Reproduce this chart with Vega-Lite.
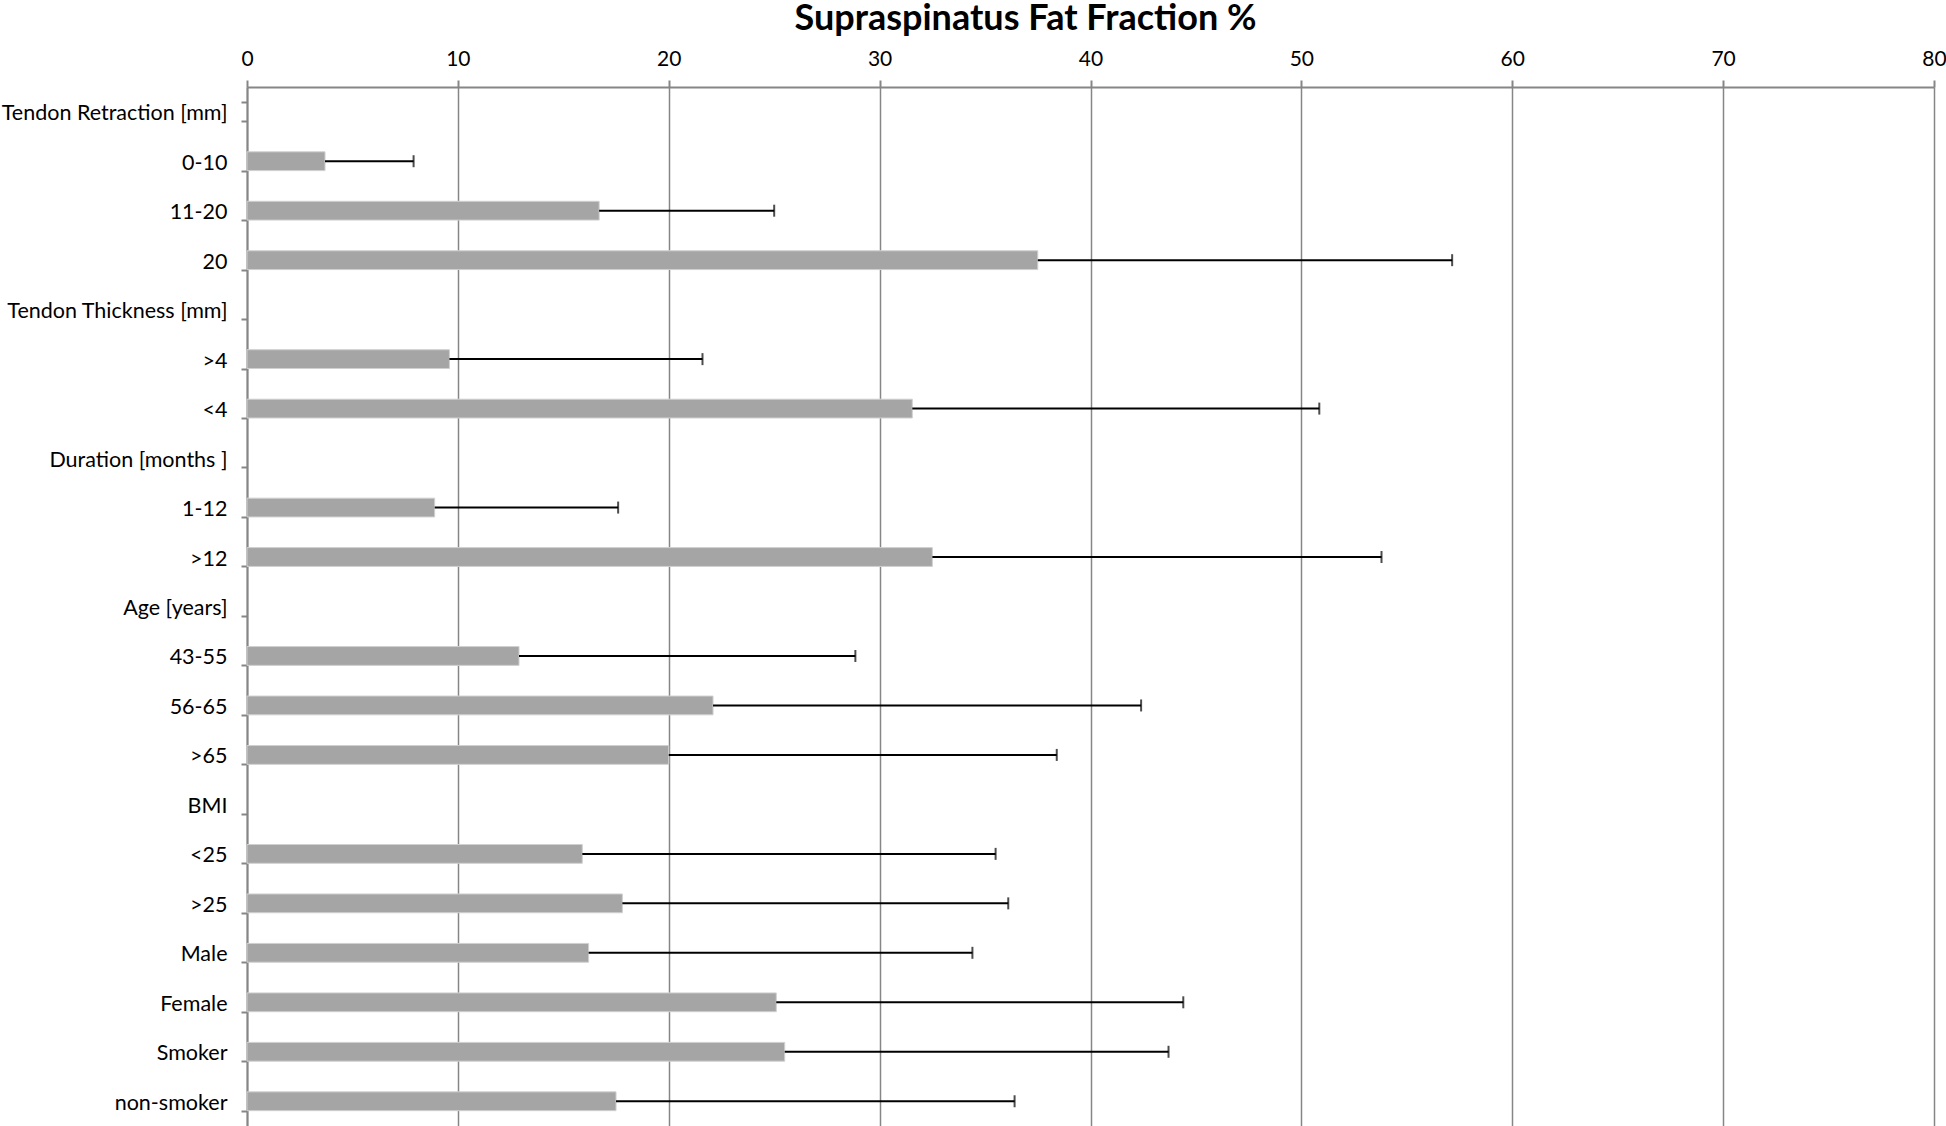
{
  "$schema": "https://vega.github.io/schema/vega-lite/v6.json",
  "autosize": {"type": "none"},
  "padding": {"left": 247, "top": 87, "right": 12, "bottom": 0},
  "width": 1687,
  "height": 1039,
  "background": "white",
  "config": {"view": {"stroke": null}, "font": "Lato"},
  "data": {
    "values": [
      {"group": "0-10", "mean": 3.7, "upper": 7.9},
      {"group": "11-20", "mean": 16.7, "upper": 25.0},
      {"group": "20", "mean": 37.5, "upper": 57.15},
      {"group": ">4", "mean": 9.6, "upper": 21.6},
      {"group": "<4", "mean": 31.55, "upper": 50.85},
      {"group": "1-12", "mean": 8.9, "upper": 17.6},
      {"group": ">12", "mean": 32.5, "upper": 53.8},
      {"group": "43-55", "mean": 12.9, "upper": 28.85},
      {"group": "56-65", "mean": 22.1, "upper": 42.4},
      {"group": ">65", "mean": 20.0, "upper": 38.4},
      {"group": "<25", "mean": 15.9, "upper": 35.5},
      {"group": ">25", "mean": 17.8, "upper": 36.1},
      {"group": "Male", "mean": 16.2, "upper": 34.4},
      {"group": "Female", "mean": 25.1, "upper": 44.4},
      {"group": "Smoker", "mean": 25.5, "upper": 43.7},
      {"group": "non-smoker", "mean": 17.5, "upper": 36.4}
    ]
  },
  "encoding": {
    "y": {
      "field": "group",
      "type": "nominal",
      "scale": {
        "domain": ["Tendon Retraction [mm]", "0-10", "11-20", "20", "Tendon Thickness [mm]", ">4", "<4", "Duration [months ]", "1-12", ">12", "Age [years]", "43-55", "56-65", ">65", "BMI", "<25", ">25", "Male", "Female", "Smoker", "non-smoker"],
        "paddingInner": 0.62,
        "paddingOuter": 0.31
      },
      "axis": {
        "title": null,
        "orient": "left",
        "domainColor": "#868686",
        "domainWidth": 2,
        "tickColor": "#868686",
        "tickWidth": 2,
        "tickSize": 6,
        "tickBand": "extent",
        "labelFontSize": 21.5,
        "labelColor": "black",
        "labelPadding": 14,
        "labelOffset": 2,
        "labelLimit": 400,
        "grid": false
      }
    }
  },
  "layer": [
    {
      "mark": {"type": "bar", "color": "#a5a5a5", "stroke": "#d0d0d0", "strokeWidth": 1},
      "encoding": {
        "x": {
          "field": "mean",
          "type": "quantitative",
          "scale": {"domain": [0, 80], "nice": false},
          "axis": {
            "orient": "top",
            "values": [0, 10, 20, 30, 40, 50, 60, 70, 80],
            "title": "Supraspinatus Fat Fraction %",
            "titleFontSize": 36,
            "titleFontWeight": "bold",
            "titleColor": "black",
            "titleAnchor": "start",
            "titleAlign": "center",
            "titleX": 778,
            "titleY": -58,
            "titleBaseline": "alphabetic",
            "domainColor": "#868686",
            "domainWidth": 2,
            "tickColor": "#868686",
            "tickWidth": 2,
            "tickSize": 7,
            "labelFontSize": 21,
            "labelColor": "black",
            "labelPadding": 11,
            "labelFlush": false,
            "grid": true,
            "gridColor": "#868686",
            "gridWidth": 1.5
          }
        }
      }
    },
    {
      "mark": {"type": "rule", "color": "black", "strokeWidth": 2},
      "encoding": {
        "x": {"field": "mean", "type": "quantitative"},
        "x2": {"field": "upper"}
      }
    },
    {
      "mark": {"type": "tick", "orient": "vertical", "color": "black", "thickness": 2, "size": 12},
      "encoding": {
        "x": {"field": "upper", "type": "quantitative"}
      }
    }
  ]
}
